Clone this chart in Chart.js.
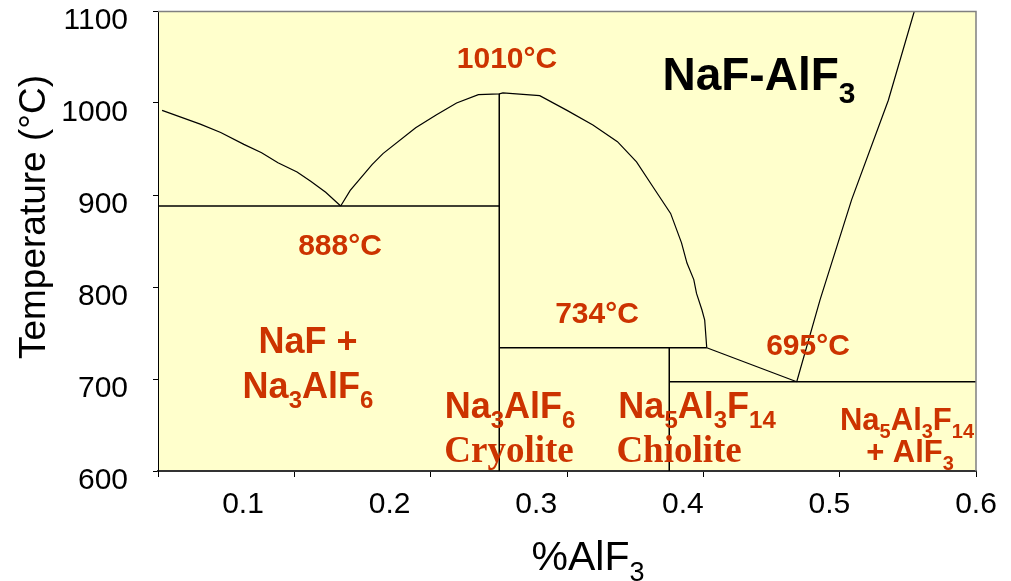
<!DOCTYPE html>
<html>
<head>
<meta charset="utf-8">
<script src="https://cdn.jsdelivr.net/npm/chart.js@4/dist/chart.umd.min.js"></script>
<style>
  html, body { margin: 0; padding: 0; background: #fff; }
</style>
</head>
<body>
<canvas id="myChart" width="1011" height="581"></canvas>
<script>
'use strict';

// NaF liquidus down to the 888 eutectic
let nafLiquidusX = [0.003, 0.031, 0.046, 0.063, 0.076, 0.088, 0.102, 0.112, 0.123, 0.134];
let nafLiquidusT = [992, 977, 968, 955, 946, 935, 925, 915, 903, 888];

// cryolite liquidus: eutectic -> 1010 max -> chiolite peritectic
let cryoliteLiquidusX = [0.134, 0.141, 0.157, 0.165, 0.189, 0.204, 0.219, 0.235, 0.2503, 0.253, 0.280, 0.300, 0.319, 0.337, 0.351, 0.363, 0.376, 0.384, 0.388, 0.393, 0.395, 0.399, 0.401, 0.4025];
let cryoliteLiquidusT = [888, 905, 933, 945, 973, 987, 1000, 1009, 1010, 1011, 1008, 992, 976, 958, 936, 909, 880, 848, 826, 808, 793, 775, 764, 734];

// chiolite liquidus down to the 695 eutectic
let chioliteLiquidusX = [0.4025, 0.4685];
let chioliteLiquidusT = [734, 697];

// AlF3 liquidus
let alf3LiquidusX = [0.4685, 0.4856, 0.5088, 0.5357, 0.5548];
let alf3LiquidusT = [697, 786, 895, 1003, 1100];

// solidus / compound lines
let eutecticLineX = [0, 0.2503];
let eutecticLineT = [888, 888];
let cryoliteLineX = [0.2503, 0.2503];
let cryoliteLineT = [600, 1010];
let peritecticLineX = [0.2503, 0.4025];
let peritecticLineT = [734, 734];
let chioliteLineX = [0.375, 0.375];
let chioliteLineT = [600, 734];
let eutectic695LineX = [0.375, 0.6];
let eutectic695LineT = [697, 697];

let xTickValues = [0.1, 0.2, 0.3, 0.4, 0.5, 0.6];
let xTickLabels = ['0.1', '0.2', '0.3', '0.4', '0.5', '0.6'];

let sans = '"Liberation Sans", Arial, sans-serif';
let serif = '"Liberation Serif", "Times New Roman", serif';
let red = '#CC3300';

// text on the diagram, anchored in data units (centre x, baseline T)
let phaseLabels = [
    { parts: [['1010°C']], x: 0.256, t: 1038, size: 30 },
    { parts: [['888°C']], x: 0.1335, t: 835, size: 30 },
    { parts: [['734°C']], x: 0.322, t: 761, size: 30 },
    { parts: [['695°C']], x: 0.4768, t: 726, size: 30 },
    { parts: [['NaF-AlF'], ['3', 1]], x: 0.4408, t: 1014, size: 46, color: '#000' },
    { parts: [['NaF +']], x: 0.110, t: 728, size: 36 },
    { parts: [['Na'], ['3', 1], ['AlF'], ['6', 1]], x: 0.110, t: 679, size: 36 },
    { parts: [['Na'], ['3', 1], ['AlF'], ['6', 1]], x: 0.2582, t: 657.6, size: 36 },
    { parts: [['Cryolite']], x: 0.2575, t: 610, size: 37, family: serif },
    { parts: [['Na'], ['5', 1], ['Al'], ['3', 1], ['F'], ['14', 1]], x: 0.3954, t: 657.6, size: 36 },
    { parts: [['Chiolite']], x: 0.3822, t: 610, size: 37, family: serif },
    { parts: [['Na'], ['5', 1], ['Al'], ['3', 1], ['F'], ['14', 1]], x: 0.5494, t: 644.6, size: 31 },
    { parts: [['+ AlF'], ['3', 1]], x: 0.5516, t: 610, size: 31 }
];

function toPoints(xs, ts) {
    return xs.map((x, i) => ({ x: x, y: ts[i] }));
}

function boundary(xs, ts, width) {
    return {
        data: toPoints(xs, ts),
        showLine: true,
        borderColor: '#000',
        borderWidth: width || 1.2,
        pointRadius: 0,
        fill: false
    };
}

function drawRich(ctx, parts, cx, baseY, size, family, color, weight) {
    let subSize = Math.round(size * 0.66);
    let widths = parts.map(p => {
        ctx.font = weight + ' ' + (p[1] ? subSize : size) + 'px ' + family;
        return ctx.measureText(p[0]).width;
    });
    let total = widths.reduce((a, b) => a + b, 0);
    let x = cx - total / 2;
    ctx.fillStyle = color;
    ctx.textAlign = 'left';
    ctx.textBaseline = 'alphabetic';
    parts.forEach((p, i) => {
        ctx.font = weight + ' ' + (p[1] ? subSize : size) + 'px ' + family;
        ctx.fillText(p[0], x, baseY + (p[1] ? size * 0.27 : 0));
        x += widths[i];
    });
}

let decor = {
    id: 'decor',
    beforeDraw(chart) {
        let a = chart.chartArea;
        let ctx = chart.ctx;
        ctx.save();
        ctx.fillStyle = '#FFFFCC';
        ctx.fillRect(a.left, a.top, a.right - a.left, a.bottom - a.top);
        ctx.restore();
    },
    afterDraw(chart) {
        let a = chart.chartArea;
        let ctx = chart.ctx;
        let xs = chart.scales.x;
        let ys = chart.scales.y;
        ctx.save();
        // top and right frame
        ctx.strokeStyle = '#808080';
        ctx.lineWidth = 1.5;
        ctx.beginPath();
        ctx.moveTo(a.left, a.top + 0.5);
        ctx.lineTo(a.right, a.top + 0.5);
        ctx.lineTo(a.right, a.bottom);
        ctx.stroke();

        phaseLabels.forEach(l => {
            drawRich(ctx, l.parts, xs.getPixelForValue(l.x), ys.getPixelForValue(l.t),
                l.size, l.family || sans, l.color || red, 'bold');
        });

        // axis titles
        drawRich(ctx, [['%AlF'], ['3', 1]], 588, 570, 41, sans, '#000', 'normal');
        ctx.translate(35, 217);
        ctx.rotate(-Math.PI / 2);
        ctx.fillStyle = '#000';
        ctx.font = '37px ' + sans;
        ctx.textAlign = 'center';
        ctx.textBaseline = 'middle';
        ctx.fillText('Temperature (°C)', 0, 0);
        ctx.restore();
    }
};

let ctx = document.getElementById('myChart').getContext('2d');
let chart = new Chart(ctx, {
    type: 'scatter',
    data: {
        datasets: [
            boundary(nafLiquidusX, nafLiquidusT),
            boundary(cryoliteLiquidusX, cryoliteLiquidusT),
            boundary(chioliteLiquidusX, chioliteLiquidusT),
            boundary(alf3LiquidusX, alf3LiquidusT),
            boundary(eutecticLineX, eutecticLineT, 1.5),
            boundary(cryoliteLineX, cryoliteLineT, 1.5),
            boundary(peritecticLineX, peritecticLineT, 1.5),
            boundary(chioliteLineX, chioliteLineT, 1.5),
            boundary(eutectic695LineX, eutectic695LineT, 1.5)
        ]
    },
    options: {
        responsive: false,
        animation: false,
        events: [],
        layout: { padding: { top: 11, right: 35, left: 0, bottom: 0 } },
        plugins: { legend: { display: false }, tooltip: { enabled: false } },
        scales: {
            x: {
                type: 'linear',
                position: 'bottom',
                min: 0,
                max: 0.6,
                ticks: { display: false, stepSize: 0.1 },
                grid: { drawOnChartArea: false, drawTicks: true, tickLength: 6, color: '#000' },
                border: { color: '#333', width: 2 },
                afterFit(s) { s.height = 0; s.paddingLeft = 0; s.paddingRight = 0; }
            },
            x2: {
                type: 'linear',
                position: 'bottom',
                min: 0.042,
                max: 0.6,
                afterBuildTicks(s) { s.ticks = xTickValues.map(v => ({ value: v })); },
                ticks: {
                    callback: (v, i) => xTickLabels[i],
                    font: { family: sans, size: 30 },
                    color: '#000',
                    padding: 16,
                    maxRotation: 0,
                    autoSkip: false
                },
                grid: { display: false, drawTicks: false },
                border: { display: false },
                afterFit(s) { s.height = 110; s.paddingLeft = 0; s.paddingRight = 0; }
            },
            y: {
                min: 600,
                max: 1100,
                ticks: {
                    stepSize: 100,
                    callback: v => String(v),
                    font: { family: sans, size: 30 },
                    color: '#000',
                    padding: 25,
                    labelOffset: 10
                },
                grid: { drawOnChartArea: false, tickLength: 5, color: '#000' },
                border: { color: '#000', width: 1 },
                afterFit(s) { s.width = 158; s.paddingTop = 0; s.paddingBottom = 0; }
            }
        }
    },
    plugins: [decor]
});
</script>
</body>
</html>
